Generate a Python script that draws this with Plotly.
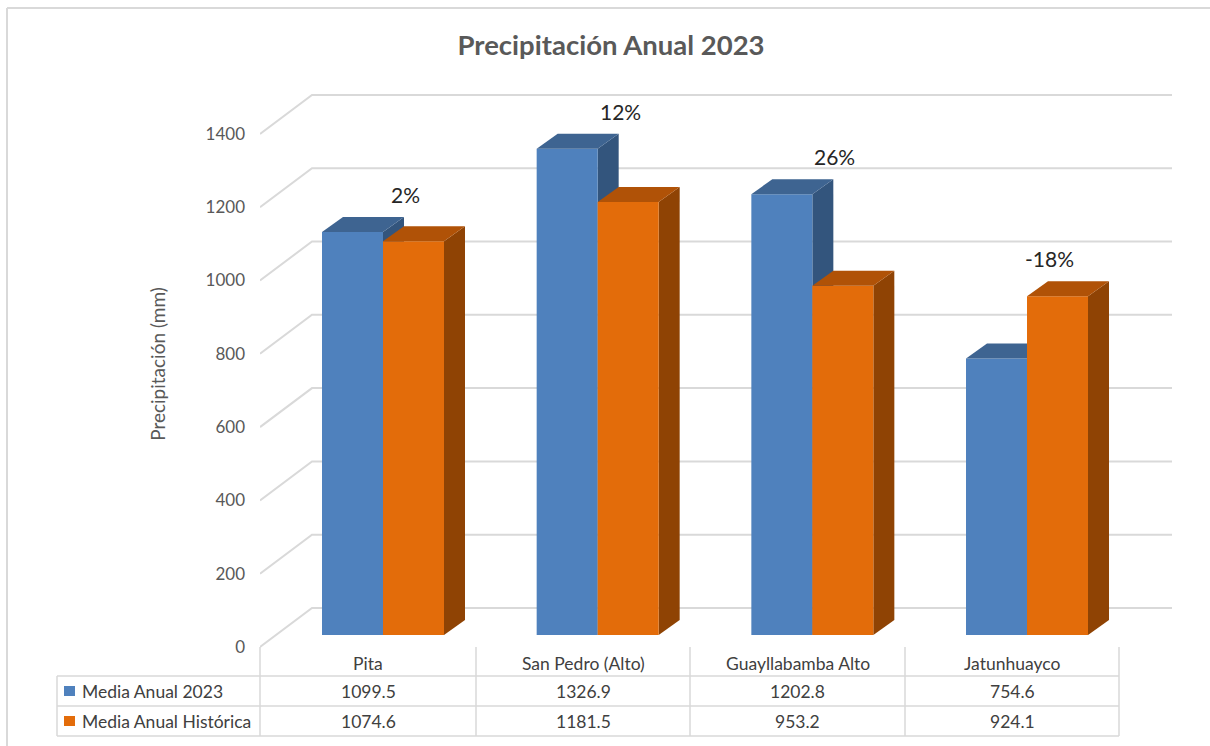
import plotly.graph_objects as go

# ---------------- data ----------------
categories = ["Pita", "San Pedro (Alto)", "Guayllabamba Alto", "Jatunhuayco"]
series_names = ["Media Anual 2023", "Media Anual Histórica"]
media_2023 = [1099.5, 1326.9, 1202.8, 754.6]
media_hist = [1074.6, 1181.5, 953.2, 924.1]
y_ticks = [0, 200, 400, 600, 800, 1000, 1200, 1400]

# ---------------- style / geometry ----------------
FONT = "Lato"
GREY = "#595959"
GRID = "#d9d9d9"
FRONT = ["#4f81bd", "#e36c0a"]
TOP = ["#3e6491", "#b05207"]
SIDE = ["#33557d", "#8f4304"]

W, H = 1210, 746
L, R, T, B = 260, 1175, 80, 648           # plot area in pixels
PX_PER_CAT = 214.67
CAT0_PX = 368
PX_PER_MM = 0.3665
ZERO_PY = 635

def ux(px):  # pixel -> x units
    return (px - CAT0_PX) / PX_PER_CAT

def uy(py):  # pixel -> y units (mm)
    return (ZERO_PY - py) / PX_PER_MM

def paper_x(px):
    return (px - L) / (R - L)

def paper_y(py):
    return (B - py) / (B - T)

BAR_W = 61 / PX_PER_CAT
OFFSETS = [-46 / PX_PER_CAT, 15 / PX_PER_CAT]
DX = 21 / PX_PER_CAT
DY = 15 / PX_PER_MM
WALL_FRONT_X = ux(260)
WALL_BACK_X = ux(312)
WALL_RIGHT_X = ux(1172)
FRONT_SHIFT = uy(647)     # floor front edge level at 0
BACK_SHIFT = uy(608)      # back wall level at 0

fig = go.Figure()

# gridlines (left wall + back wall)
gx, gy = [], []
for t in y_ticks:
    gx += [WALL_FRONT_X, WALL_BACK_X, WALL_RIGHT_X, None]
    gy += [t + FRONT_SHIFT, t + BACK_SHIFT, t + BACK_SHIFT, None]
fig.add_trace(go.Scatter(x=gx, y=gy, mode="lines", line=dict(color=GRID, width=2),
                         hoverinfo="skip", showlegend=False))


def poly(xs, ys, color):
    fig.add_trace(go.Scatter(x=xs + [xs[0]], y=ys + [ys[0]], fill="toself",
                             fillcolor=color, mode="lines",
                             line=dict(width=0, color=color),
                             hoverinfo="skip", showlegend=False))


series = [media_2023, media_hist]
for i in range(len(categories)):
    for s, vals in enumerate(series):
        v = vals[i]
        x0 = i + OFFSETS[s]
        x1 = x0 + BAR_W
        # side face
        poly([x1, x1 + DX, x1 + DX, x1], [0, DY, v + DY, v], SIDE[s])
        # front face
        poly([x0, x1, x1, x0], [0, 0, v, v], FRONT[s])
        # top face
        poly([x0, x1, x1 + DX, x0 + DX], [v, v, v + DY, v + DY], TOP[s])

annotations = []
# percentage labels
for i in range(len(categories)):
    a, h = media_2023[i], media_hist[i]
    pct = round(100 * (a - h) / h)
    annotations.append(dict(x=i + 0.175, y=max(a, h) + DY + 61, xref="x", yref="y",
                            text=f"{pct}%", showarrow=False,
                            xanchor="center", yanchor="middle",
                            font=dict(family=FONT, size=21, color="#262626")))

shapes = []
# outer chart border (top & left)
shapes.append(dict(type="line", xref="paper", yref="paper",
                   x0=paper_x(7), x1=paper_x(1212), y0=paper_y(8), y1=paper_y(8),
                   line=dict(color=GRID, width=2)))
shapes.append(dict(type="line", xref="paper", yref="paper",
                   x0=paper_x(7), x1=paper_x(7), y0=paper_y(8), y1=paper_y(748),
                   line=dict(color=GRID, width=2)))

# data table
col_edges = [260, 476, 690, 905, 1119]
row_lines = [676, 706, 736]
for cx in col_edges:
    shapes.append(dict(type="line", xref="paper", yref="paper",
                       x0=paper_x(cx), x1=paper_x(cx), y0=paper_y(647), y1=paper_y(736),
                       line=dict(color=GRID, width=1.5)))
shapes.append(dict(type="line", xref="paper", yref="paper",
                   x0=paper_x(57), x1=paper_x(57), y0=paper_y(676), y1=paper_y(736),
                   line=dict(color=GRID, width=1.5)))
for ry in row_lines:
    shapes.append(dict(type="line", xref="paper", yref="paper",
                       x0=paper_x(57), x1=paper_x(1119), y0=paper_y(ry), y1=paper_y(ry),
                       line=dict(color=GRID, width=1.5)))

TXT = "#404040"
TFS = 17.5
for i, c in enumerate(categories):
    cxp = (col_edges[i] + col_edges[i + 1]) / 2
    annotations.append(dict(x=paper_x(cxp), y=paper_y(663), xref="paper", yref="paper",
                            text=c, showarrow=False, xanchor="center", yanchor="middle",
                            font=dict(family=FONT, size=TFS, color=TXT)))
    for r, vals in enumerate(series):
        ry = (row_lines[r] + row_lines[r + 1]) / 2
        annotations.append(dict(x=paper_x(cxp), y=paper_y(ry), xref="paper", yref="paper",
                                text=f"{vals[i]:.1f}", showarrow=False,
                                xanchor="center", yanchor="middle",
                                font=dict(family=FONT, size=TFS, color=TXT)))
for r, name in enumerate(series_names):
    ry = (row_lines[r] + row_lines[r + 1]) / 2
    shapes.append(dict(type="rect", xref="paper", yref="paper",
                       x0=paper_x(64), x1=paper_x(75), y0=paper_y(ry - 5), y1=paper_y(ry + 5),
                       fillcolor=FRONT[r], line=dict(width=0)))
    annotations.append(dict(x=paper_x(80), y=paper_y(ry), xref="paper", yref="paper",
                            text=name, showarrow=False, xanchor="left", yanchor="middle",
                            font=dict(family=FONT, size=TFS, color=TXT)))

fig.update_layout(
    width=W, height=H,
    margin=dict(l=L, r=W - R, t=T, b=H - B),
    paper_bgcolor="white", plot_bgcolor="white",
    title=dict(text="<b>Precipitación Anual 2023</b>", x=0.505, xanchor="center",
               y=1 - 45 / H, yanchor="middle",
               font=dict(family=FONT, size=27.5, color=GREY)),
    xaxis=dict(range=[ux(L), ux(R)], showgrid=False, zeroline=False,
               showticklabels=False, showline=False, fixedrange=True),
    yaxis=dict(range=[uy(B), uy(T)], showgrid=False, zeroline=False, showline=False,
               tickvals=[t + FRONT_SHIFT for t in y_ticks],
               ticktext=[str(t) for t in y_ticks],
               ticks="", ticklabelstandoff=14,
               tickfont=dict(family=FONT, size=17, color=GREY),
               title=dict(text="Precipitación (mm)", standoff=34,
                          font=dict(family=FONT, size=19, color=GREY)),
               automargin=False,
               fixedrange=True),
    shapes=shapes,
    annotations=annotations,
    showlegend=False,
)

fig.write_html("out.html", config={"displayModeBar": False},
               post_script="document.body.style.margin='0';")
